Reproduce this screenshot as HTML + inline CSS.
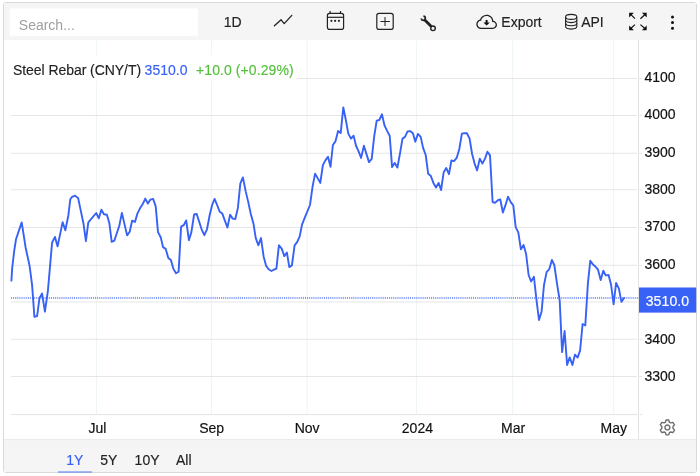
<!DOCTYPE html>
<html lang="en">
<head>
<meta charset="utf-8">
<title>Steel Rebar (CNY/T)</title>
<style>
html,body{margin:0;padding:0;background:#fff;}
body{width:700px;height:476px;position:relative;overflow:hidden;font-family:"Liberation Sans",Arial,Helvetica,sans-serif;font-size:14px;color:#222;}
.widget{position:absolute;left:3px;top:2px;width:692px;height:469px;border:1px solid #d9d9d9;border-radius:3px;background:#fff;box-sizing:content-box;}
.toolbar,.chart,.ranges{display:block;position:static;margin:0;padding:0;}
.search{position:absolute;left:9.5px;top:8px;width:188.5px;height:28px;background:transparent;border:0;padding:6px 0 0 9.3px;margin:0;box-sizing:border-box;font:14px/22px "Liberation Sans",Arial,sans-serif;color:#a0a0a0;white-space:nowrap;overflow:hidden;}
.t{position:absolute;white-space:nowrap;line-height:16px;font-size:14px;-webkit-text-stroke:0.15px currentColor;}
.icons{position:absolute;left:0;top:0;}
.plot{position:absolute;left:0;top:0;}
.ax{font-family:"Liberation Sans",Arial,sans-serif;font-size:14px;fill:#111;stroke:#111;stroke-width:0.18px;}
.bg{position:absolute;left:0;top:0;}
.blue{color:#3861f6;}
.green{color:#54c13c;}
.ul{position:absolute;left:57.5px;top:471px;width:34px;height:2px;background:#3861f6;opacity:.42;}
</style>
</head>
<body>
<div class="widget"></div>
<svg class="bg" width="700" height="476" viewBox="0 0 700 476"><rect x="4" y="3" width="692" height="37" fill="#f5f5f5"/><rect x="4" y="439.5" width="692" height="32.5" fill="#f5f5f5"/><rect x="4" y="439.2" width="692" height="1" fill="#e8e8e8"/></svg>
<header class="toolbar">
<svg class="icons" width="700" height="42" viewBox="0 0 700 42">
<rect x="9.6" y="8.4" width="188.4" height="27.4" fill="#fff"/>
<polyline points="274.4,25.7 281.1,19.8 284.2,23.6 291.8,15.4" fill="none" stroke="#222" stroke-width="1.3" stroke-linecap="round" stroke-linejoin="round"/>
<g fill="none" stroke="#222" stroke-width="1.2">
<rect x="327.4" y="13.3" width="16.2" height="16.1" rx="2.2"/>
<line x1="327.4" y1="17.3" x2="343.6" y2="17.3"/>
<line x1="330.1" y1="11" x2="330.1" y2="13.3"/>
<line x1="340.5" y1="11" x2="340.5" y2="13.3"/>
</g>
<g fill="#222"><circle cx="331.4" cy="20.8" r="1.1"/><circle cx="335.1" cy="20.8" r="1.1"/><circle cx="338.9" cy="20.8" r="1.1"/></g>
<g fill="none" stroke="#222" stroke-width="1.2">
<rect x="376.8" y="13.3" width="16.4" height="16.1" rx="2.2"/>
<line x1="380.4" y1="21.5" x2="389.9" y2="21.5" stroke-width="1"/>
<line x1="385" y1="17" x2="385" y2="26" stroke-width="1"/>
</g>
<g fill="none" stroke="#222" stroke-linecap="round">
<line x1="424.3" y1="19.4" x2="431.3" y2="26.6" stroke-width="2.8" stroke-linecap="butt"/>
<circle cx="433" cy="28.3" r="2.3" stroke-width="1.4" fill="#f5f5f5"/>
<path d="M423.42 16.2 A2.05 2.05 0 1 1 421.2 18.47" stroke-width="1.7" stroke-linecap="butt"/>
</g>
<g transform="translate(476.3 12.2) scale(1.294)" fill="#222">
<path d="M4.406 3.342A5.53 5.53 0 0 1 8 2c2.69 0 4.923 2 5.166 4.579C14.758 6.804 16 8.137 16 9.773 16 11.569 14.502 13 12.687 13H3.781C1.708 13 0 11.366 0 9.318c0-1.763 1.266-3.223 2.942-3.593.143-.863.698-1.723 1.464-2.383zm.653.757c-.757.653-1.153 1.44-1.153 2.056v.448l-.445.049C2.064 6.805 1 7.952 1 9.318 1 10.785 2.23 12 3.781 12h8.906C13.98 12 15 10.988 15 9.773c0-1.216-1.02-2.228-2.313-2.228h-.5v-.5C12.188 4.825 10.328 3 8 3a4.53 4.53 0 0 0-2.941 1.1z"/>
</g>
<path d="M485.6 20 h2 v2.4 h2.2 l-3.2 3.2 l-3.2 -3.2 h2.2 z" fill="#111"/>
<g fill="none" stroke="#222" stroke-width="1.1">
<ellipse cx="571.2" cy="16.9" rx="5.6" ry="2.5"/>
<path d="M565.6 16.9 V26.6 A5.6 2.5 0 0 0 576.8 26.6 V16.9"/>
<path d="M565.6 20.1 A5.6 2.5 0 0 0 576.8 20.1"/>
<path d="M565.6 23.3 A5.6 2.5 0 0 0 576.8 23.3"/>
</g>
<g fill="#111" stroke="#111" stroke-width="1.2" stroke-linecap="butt">
<path d="M629.1 12.8 h4.8 l-4.8 4.8 z" stroke="none"/><line x1="630.5" y1="14.2" x2="634.9" y2="18.7"/>
<path d="M646.7 12.8 h-4.8 l4.8 4.8 z" stroke="none"/><line x1="645.3" y1="14.2" x2="640.4" y2="18.7"/>
<path d="M629.1 30.2 h4.8 l-4.8 -4.8 z" stroke="none"/><line x1="630.5" y1="28.8" x2="634.9" y2="24.6"/>
<path d="M646.7 30.2 h-4.8 l4.8 -4.8 z" stroke="none"/><line x1="645.3" y1="28.8" x2="640.4" y2="24.6"/>
</g>
<g fill="#111"><circle cx="672.5" cy="17" r="1.5"/><circle cx="672.5" cy="22.6" r="1.5"/><circle cx="672.5" cy="28.3" r="1.5"/></g>
</svg>
<div class="search" role="searchbox">Search...</div>
<span class="t" style="left:223.8px;top:13.5px;">1D</span>
<span class="t" style="left:501.3px;top:13.5px;">Export</span>
<span class="t" style="left:581.2px;top:13.5px;">API</span>
</header>
<main class="chart">
<svg class="plot" width="700" height="476" viewBox="0 0 700 476">
<line x1="96.4" y1="40.5" x2="96.4" y2="414.6" stroke="#eef3f7" stroke-width="1"/>
<line x1="211.4" y1="40.5" x2="211.4" y2="414.6" stroke="#eef3f7" stroke-width="1"/>
<line x1="307.1" y1="40.5" x2="307.1" y2="414.6" stroke="#eef3f7" stroke-width="1"/>
<line x1="416.4" y1="40.5" x2="416.4" y2="414.6" stroke="#eef3f7" stroke-width="1"/>
<line x1="512.6" y1="40.5" x2="512.6" y2="414.6" stroke="#eef3f7" stroke-width="1"/>
<line x1="613.6" y1="40.5" x2="613.6" y2="414.6" stroke="#eef3f7" stroke-width="1"/>
<line x1="11" y1="78.50" x2="637" y2="78.50" stroke="#e6e6e6" stroke-width="1"/>
<line x1="639.3" y1="78.50" x2="642" y2="78.50" stroke="#e4e4e4" stroke-width="1"/>
<line x1="11" y1="115.50" x2="637" y2="115.50" stroke="#e6e6e6" stroke-width="1"/>
<line x1="639.3" y1="115.50" x2="642" y2="115.50" stroke="#e4e4e4" stroke-width="1"/>
<line x1="11" y1="153.25" x2="637" y2="153.25" stroke="#e6e6e6" stroke-width="1"/>
<line x1="639.3" y1="153.25" x2="642" y2="153.25" stroke="#e4e4e4" stroke-width="1"/>
<line x1="11" y1="189.75" x2="637" y2="189.75" stroke="#e6e6e6" stroke-width="1"/>
<line x1="639.3" y1="189.75" x2="642" y2="189.75" stroke="#e4e4e4" stroke-width="1"/>
<line x1="11" y1="227.50" x2="637" y2="227.50" stroke="#e6e6e6" stroke-width="1"/>
<line x1="639.3" y1="227.50" x2="642" y2="227.50" stroke="#e4e4e4" stroke-width="1"/>
<line x1="11" y1="265.30" x2="637" y2="265.30" stroke="#e6e6e6" stroke-width="1"/>
<line x1="639.3" y1="265.30" x2="642" y2="265.30" stroke="#e4e4e4" stroke-width="1"/>
<line x1="11" y1="302.00" x2="637" y2="302.00" stroke="#e6e6e6" stroke-width="1"/>
<line x1="639.3" y1="302.00" x2="642" y2="302.00" stroke="#e4e4e4" stroke-width="1"/>
<line x1="11" y1="339.30" x2="637" y2="339.30" stroke="#e6e6e6" stroke-width="1"/>
<line x1="639.3" y1="339.30" x2="642" y2="339.30" stroke="#e4e4e4" stroke-width="1"/>
<line x1="11" y1="376.50" x2="637" y2="376.50" stroke="#e6e6e6" stroke-width="1"/>
<line x1="639.3" y1="376.50" x2="642" y2="376.50" stroke="#e4e4e4" stroke-width="1"/>
<rect x="12" y="55" width="285.3" height="25.8" fill="#fff" opacity="0.92"/>
<line x1="11" y1="414.6" x2="637.3" y2="414.6" stroke="#e3e3e3" stroke-width="1"/><line x1="639.5" y1="414.6" x2="642" y2="414.6" stroke="#e6e6e6" stroke-width="1"/>
<line x1="638.5" y1="40" x2="638.5" y2="439.5" stroke="#e3e3e3" stroke-width="1"/>
<line x1="11" y1="297.9" x2="639" y2="297.9" stroke="#3861f6" stroke-width="1.5" stroke-dasharray="1.05 1.05" opacity="0.85"/>
<path d="M11.4 280.6 L12.2 268.0 L14.2 251.0 L16.0 239.3 L21.7 222.4 L25.7 248.0 L29.6 265.9 L32.1 285.1 L34.4 316.7 L37.1 316.1 L39.5 298.0 L42.1 293.6 L44.9 311.7 L47.9 290.9 L50.0 266.6 L52.1 242.5 L55.0 236.9 L57.6 246.4 L62.6 222.1 L65.3 230.3 L68.3 215.7 L70.3 199.3 L72.1 196.9 L75.0 195.7 L78.1 197.9 L83.6 224.3 L85.9 241.1 L88.3 222.4 L96.2 213.0 L98.8 218.3 L101.4 209.7 L103.9 214.3 L106.9 214.7 L109.3 222.9 L111.7 241.9 L114.3 240.7 L119.3 225.7 L121.9 212.9 L127.1 235.4 L129.7 231.7 L132.1 220.7 L135.0 221.9 L137.4 213.6 L140.0 208.3 L142.6 204.3 L145.3 198.6 L147.9 203.6 L150.4 199.6 L153.1 198.9 L155.7 206.4 L158.0 232.1 L160.8 237.5 L163.0 247.1 L165.7 248.9 L168.3 257.9 L170.9 260.0 L173.3 268.6 L176.0 273.3 L178.6 271.7 L181.1 226.6 L183.7 225.2 L186.2 220.4 L188.9 240.2 L191.4 232.1 L194.1 214.5 L196.7 214.0 L201.6 229.3 L204.3 235.2 L207.0 229.3 L209.7 215.0 L212.1 205.0 L214.6 198.9 L217.1 205.0 L219.7 211.7 L222.3 213.6 L227.4 227.5 L230.1 214.8 L232.7 218.6 L235.3 219.0 L237.9 207.9 L240.3 183.6 L242.9 177.4 L245.7 191.4 L248.1 201.4 L250.7 213.5 L253.6 224.3 L255.7 237.9 L258.3 245.3 L261.0 238.1 L263.6 256.4 L266.1 265.7 L268.6 269.3 L271.4 271.0 L274.0 269.7 L276.4 268.6 L278.9 245.3 L281.7 248.6 L284.3 256.1 L286.9 252.6 L289.3 267.1 L291.9 265.4 L294.6 245.3 L297.1 242.1 L299.7 236.4 L302.1 224.3 L305.0 217.1 L310.0 205.0 L312.6 186.4 L315.1 173.6 L317.9 178.6 L320.3 182.9 L322.9 165.0 L325.4 160.4 L328.0 156.7 L330.5 166.8 L332.9 145.0 L335.4 141.4 L338.1 131.0 L340.7 133.1 L343.3 107.4 L345.7 119.3 L348.3 133.6 L351.0 138.6 L353.6 135.7 L356.1 146.0 L358.6 151.4 L361.1 157.9 L363.9 145.7 L366.4 153.9 L369.0 162.1 L371.7 158.9 L374.3 135.7 L376.7 120.7 L379.3 120.0 L381.9 114.3 L384.6 125.7 L387.1 130.9 L389.7 135.7 L392.1 167.1 L394.7 162.9 L397.4 167.5 L400.0 153.3 L402.5 138.6 L405.0 136.9 L407.6 131.4 L410.2 131.1 L412.9 133.3 L415.3 141.7 L417.9 133.9 L420.7 136.9 L423.1 147.9 L425.7 155.0 L428.2 173.8 L430.7 175.7 L433.3 182.7 L436.0 187.5 L438.6 182.9 L441.1 190.0 L443.7 172.2 L446.2 168.0 L449.0 174.2 L451.4 160.5 L454.0 161.2 L456.7 157.9 L459.3 149.0 L461.9 133.6 L464.3 133.1 L466.9 133.3 L469.6 138.6 L472.1 154.0 L474.6 163.6 L477.1 170.4 L479.8 158.8 L482.4 163.6 L485.0 158.6 L487.4 151.7 L490.0 155.4 L492.6 202.0 L495.0 202.9 L497.9 200.2 L500.3 199.5 L502.9 212.5 L505.4 205.4 L508.0 196.7 L510.7 202.2 L513.3 205.4 L515.7 227.1 L518.3 232.4 L520.9 249.3 L523.6 245.0 L526.1 254.0 L528.6 275.0 L531.1 281.4 L533.9 276.7 L536.4 299.3 L539.0 320.0 L541.6 311.4 L544.0 285.0 L546.6 272.1 L549.3 269.0 L551.9 260.0 L554.3 265.0 L556.9 282.9 L559.7 300.7 L562.1 352.1 L564.6 331.0 L567.1 365.0 L569.7 357.4 L572.4 365.0 L575.0 354.6 L577.6 357.6 L580.1 350.4 L582.6 324.0 L585.3 325.4 L587.9 283.3 L590.3 260.7 L592.9 264.4 L595.4 266.5 L598.0 269.7 L600.7 280.0 L603.3 270.7 L605.7 275.4 L608.6 275.0 L611.1 285.0 L613.6 304.3 L616.1 282.9 L618.9 288.6 L621.4 301.9 L624.0 297.9" fill="none" stroke="#3861f6" stroke-width="1.9" stroke-linejoin="round" stroke-linecap="round"/>
<text x="644.5" y="81.80" class="ax">4100</text>
<text x="644.5" y="119.20" class="ax">4000</text>
<text x="644.5" y="156.60" class="ax">3900</text>
<text x="644.5" y="194.00" class="ax">3800</text>
<text x="644.5" y="231.40" class="ax">3700</text>
<text x="644.5" y="268.80" class="ax">3600</text>
<text x="644.5" y="343.60" class="ax">3400</text>
<text x="644.5" y="381.00" class="ax">3300</text>
<rect x="639" y="287.5" width="57.2" height="25.1" fill="#3861f6"/>
<text x="645.7" y="306.1" class="ax" style="fill:#fff;stroke:#fff;letter-spacing:0.12px">3510.0</text>
<text x="97.4" y="433" class="ax" text-anchor="middle">Jul</text>
<text x="211.7" y="433" class="ax" text-anchor="middle">Sep</text>
<text x="307.1" y="433" class="ax" text-anchor="middle">Nov</text>
<text x="417.4" y="433" class="ax" text-anchor="middle">2024</text>
<text x="513.1" y="433" class="ax" text-anchor="middle">Mar</text>
<text x="613.8" y="433" class="ax" text-anchor="middle">May</text>
<g transform="translate(667.4 427.45) scale(1.03)" fill="none" stroke="#6e6e6e" stroke-width="1.35" stroke-linejoin="round">
<path d="M-1.3 -7.2 L1.3 -7.2 L1.9 -5.1 L3.2 -4.4 L5.3 -5 L6.9 -2.5 L5.4 -0.9 L5.4 0.9 L6.9 2.5 L5.3 5 L3.2 4.4 L1.9 5.1 L1.3 7.2 L-1.3 7.2 L-1.9 5.1 L-3.2 4.4 L-5.3 5 L-6.9 2.5 L-5.4 0.9 L-5.4 -0.9 L-6.9 -2.5 L-5.3 -5 L-3.2 -4.4 L-1.9 -5.1 Z"/>
<circle cx="0" cy="0" r="2.4"/></g>
</svg>
<span class="t" style="left:13px;top:61.5px;color:#222;letter-spacing:-0.06px;">Steel Rebar (CNY/T)</span>
<span class="t blue" style="left:144.6px;top:61.5px;">3510.0</span>
<span class="t green" style="left:196px;top:61.5px;letter-spacing:0.09px;">+10.0 (+0.29%)</span>
</main>
<footer class="ranges">
<span class="t blue" style="left:66.2px;top:452px;">1Y</span>
<span class="t" style="left:100.2px;top:452px;">5Y</span>
<span class="t" style="left:134.6px;top:452px;">10Y</span>
<span class="t" style="left:176px;top:452px;">All</span>
<div class="ul"></div>
</footer>
</body>
</html>
